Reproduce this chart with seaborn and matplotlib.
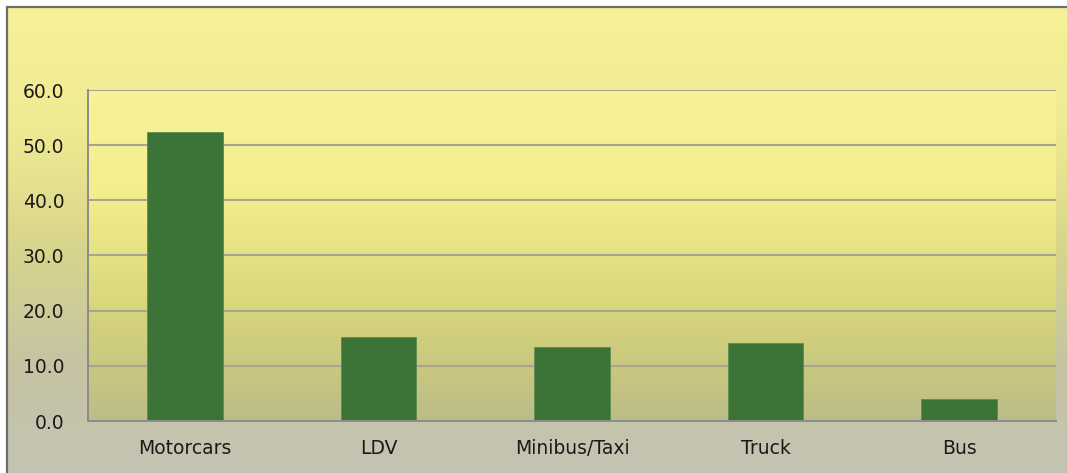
import numpy as np
import pandas as pd
import matplotlib
matplotlib.use("Agg")
import matplotlib.pyplot as plt
from matplotlib.colors import LinearSegmentedColormap
from matplotlib.patches import Rectangle
import seaborn as sns

categories = ["Motorcars", "LDV", "Minibus/Taxi", "Truck", "Bus"]
values = [52.4, 15.3, 13.4, 14.1, 4.0]
y_ticks = [0, 10, 20, 30, 40, 50, 60]

df = pd.DataFrame({"category": categories, "value": values})

sns.set_theme(style="white")
plt.rcParams["font.family"] = ["DejaVu Sans"]

W, H, DPI = 1067, 473, 100
fig = plt.figure(figsize=(W / DPI, H / DPI), dpi=DPI)
fig.patch.set_facecolor("white")

# Chart-area background: yellow at the top fading to grey at the bottom
bg = fig.add_axes([0, 0, 1, 1], zorder=-2)
bg_cmap = LinearSegmentedColormap.from_list(
    "bg", [(0.0, "#c3c3b4"), (0.25, "#c6c4a2"), (0.5, "#d9d68c"),
           (0.75, "#efeb92"), (1.0, "#f7f198")])
grad = np.linspace(0, 1, 256).reshape(-1, 1)
bg.imshow(grad, aspect="auto", cmap=bg_cmap, origin="lower",
          extent=[7 / W, 1.01, -0.01, (H - 7.5) / H])
bg.set_xlim(0, 1)
bg.set_ylim(0, 1)
bg.add_patch(Rectangle((7 / W, -0.05), 1.2, (H - 7.5) / H + 0.05,
                       fill=False, edgecolor="#6e6e6e", linewidth=1.6))
bg.axis("off")

ax = fig.add_axes([88 / W, (H - 421) / H, (1056 - 88) / W, (421 - 90) / H])
ax.set_facecolor("none")

# Plot-area gradient
pa_cmap = LinearSegmentedColormap.from_list(
    "pa", [(0.0, "#bcbc88"), (0.3, "#d4d27a"), (0.5, "#e6e283"),
           (0.7, "#f3ee8e"), (1.0, "#f8f298")])
ax.imshow(grad, aspect="auto", cmap=pa_cmap, origin="lower",
          extent=[-0.5, 4.5, 0, 60], zorder=0)

sns.barplot(data=df, x="category", y="value", color="#3c7337",
            width=0.39, saturation=1, ax=ax, zorder=3,
            edgecolor="#5e8c4e", linewidth=0.6)

ax.set_xlim(-0.5, 4.5)
ax.set_ylim(0, 60)
ax.set_yticks(y_ticks)
ax.set_yticklabels([f"{t:.1f}" for t in y_ticks])
ax.yaxis.grid(True, color="#a6a690", linewidth=1.5, zorder=1)
ax.set_axisbelow(False)
for gl in ax.get_ygridlines():
    gl.set_zorder(1)

ax.set_xticks(range(len(categories)))
ax.set_xticklabels(categories)
ax.set_xticks(np.arange(-0.5, len(categories), 1.0), minor=True)
ax.tick_params(axis="x", which="major", length=0, pad=13, labelsize=13.5,
               colors="#1a1a1a")
ax.tick_params(axis="x", which="minor", direction="out", length=6,
               width=1.2, color="#8c8c8c")
ax.tick_params(axis="y", direction="out", length=8, width=1.2,
               color="#8c8c8c", pad=9, labelsize=13.5, labelcolor="#1a1a1a")
ax.set_xlabel("")
ax.set_ylabel("")

for side in ["top", "right"]:
    ax.spines[side].set_visible(False)
for side in ["left", "bottom"]:
    ax.spines[side].set_color("#8c8c8c")
    ax.spines[side].set_linewidth(1.4)
    ax.spines[side].set_zorder(4)

fig.savefig("out.png", dpi=DPI)
